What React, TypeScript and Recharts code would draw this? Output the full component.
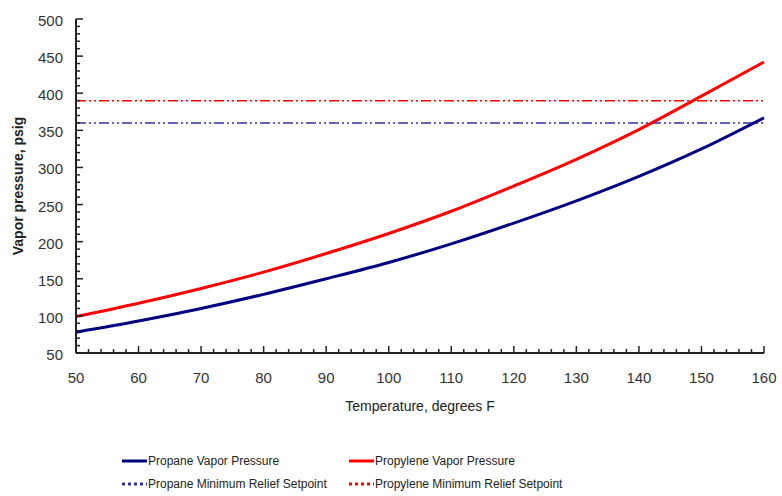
import React from "react";
import { LineChart, Line, XAxis, YAxis, ReferenceLine } from "recharts";

// temperatures (deg F) and vapor pressures (psig)
const temps = [50, 60, 70, 80, 90, 100, 110, 120, 130, 140, 150, 160];
const propane = [78, 93, 110, 129, 150, 172, 197, 225, 255, 288, 325, 367];
const propylene = [99, 117, 137, 159, 184, 211, 241, 275, 311, 351, 396, 442];

const propaneRelief = 360;
const propyleneRelief = 390;

const xMajor = [50, 60, 70, 80, 90, 100, 110, 120, 130, 140, 150, 160];
const yMajor = [50, 100, 150, 200, 250, 300, 350, 400, 450, 500];

// minor ticks: every 2 deg F and every 10 psig
const xTicks: number[] = [];
for (let v = 50; v <= 160; v += 2) xTicks.push(v);
const yTicks: number[] = [];
for (let v = 50; v <= 500; v += 10) yTicks.push(v);

const data = temps.map((t, i) => ({ temp: t, propane: propane[i], propylene: propylene[i] }));

const FONT = "'Liberation Sans', Arial, sans-serif";
const AXIS = "#222";
const NAVY = "#000080";
const RED = "#ff0000";
const DASH_BLUE = "#3030a8";
const DASH = "10 3 2 3 2 3";

const XTick = (props: any) => {
  const { x, y, payload } = props;
  const major = xMajor.includes(payload.value);
  return (
    <g>
      <path d={`M${x},${y}V${y - (major ? 7 : 4)}`} stroke={AXIS} strokeWidth={1.5} fill="none" />
      {major && (
        <text x={x} y={y + 30} textAnchor="middle" fontSize={15} fill="#333" fontFamily={FONT}>
          {payload.value}
        </text>
      )}
    </g>
  );
};

const YTick = (props: any) => {
  const { x, y, payload } = props;
  const major = yMajor.includes(payload.value);
  return (
    <g>
      <path d={`M${x},${y}H${x + (major ? 7 : 4)}`} stroke={AXIS} strokeWidth={1.5} fill="none" />
      {major && (
        <text x={x - 13} y={y + 7} textAnchor="end" fontSize={15} fill="#333" fontFamily={FONT}>
          {payload.value}
        </text>
      )}
    </g>
  );
};

const legendItems = [
  { label: "Propane Vapor Pressure", color: NAVY, dash: undefined, left: 121, top: 461 },
  { label: "Propylene Vapor Pressure", color: RED, dash: undefined, left: 348, top: 461 },
  { label: "Propane Minimum Relief Setpoint", color: DASH_BLUE, dash: "3 3", left: 121, top: 484 },
  { label: "Propylene Minimum Relief Setpoint", color: RED, dash: "3 3", left: 348, top: 484 },
];

export default function App() {
  return (
    <div style={{ position: "absolute", left: 0, top: 0, width: 782, height: 496, background: "#fff" }}>
      <LineChart width={782} height={496} data={data} margin={{ top: 19, right: 18, left: 20, bottom: 103 }}>
        <XAxis
          dataKey="temp"
          type="number"
          domain={[50, 160]}
          ticks={xTicks}
          interval={0}
          tickSize={0}
          tickMargin={0}
          tickLine={false}
          axisLine={{ stroke: AXIS, strokeWidth: 2 }}
          tick={<XTick />}
          height={40}
        />
        <XAxis xAxisId="top" orientation="top" dataKey="temp" type="number" domain={[50, 160]} height={0} tick={false} tickLine={false} axisLine={{ stroke: AXIS, strokeWidth: 2 }} />
        <YAxis
          type="number"
          domain={[50, 500]}
          ticks={yTicks}
          interval={0}
          tickSize={0}
          tickMargin={0}
          tickLine={false}
          axisLine={{ stroke: AXIS, strokeWidth: 2 }}
          tick={<YTick />}
          width={56}
        />
        <YAxis yAxisId="right" orientation="right" type="number" domain={[50, 500]} width={0} tick={false} tickLine={false} axisLine={{ stroke: AXIS, strokeWidth: 2 }} />
        <ReferenceLine y={propyleneRelief} stroke={RED} strokeWidth={1.5} strokeDasharray={DASH} />
        <ReferenceLine y={propaneRelief} stroke={DASH_BLUE} strokeWidth={1.5} strokeDasharray={DASH} />
        <Line type="monotone" dataKey="propane" stroke={NAVY} strokeWidth={3} dot={false} isAnimationActive={false} />
        <Line type="monotone" dataKey="propylene" stroke={RED} strokeWidth={3} dot={false} isAnimationActive={false} />
      </LineChart>
      <div
        style={{
          position: "absolute",
          left: 18,
          top: 186,
          transform: "translate(-50%, -50%) rotate(-90deg)",
          fontFamily: FONT,
          fontSize: 14,
          fontWeight: "bold",
          color: "#222",
          whiteSpace: "nowrap",
        }}
      >
        Vapor pressure, psig
      </div>
      <div
        style={{
          position: "absolute",
          left: 420,
          top: 406,
          transform: "translate(-50%, -50%)",
          fontFamily: FONT,
          fontSize: 14,
          color: "#222",
          whiteSpace: "nowrap",
        }}
      >
        Temperature, degrees F
      </div>
      {legendItems.map((it) => (
        <div
          key={it.label}
          style={{
            position: "absolute",
            left: it.left,
            top: it.top - 8,
            height: 16,
            display: "flex",
            alignItems: "center",
            fontFamily: FONT,
            fontSize: 12,
            color: "#222",
            whiteSpace: "nowrap",
          }}
        >
          <svg width={26} height={16} style={{ marginRight: 1 }}>
            <line x1={1} y1={8} x2={26} y2={8} stroke={it.color} strokeWidth={3} strokeDasharray={it.dash} />
          </svg>
          {it.label}
        </div>
      ))}
    </div>
  );
}
